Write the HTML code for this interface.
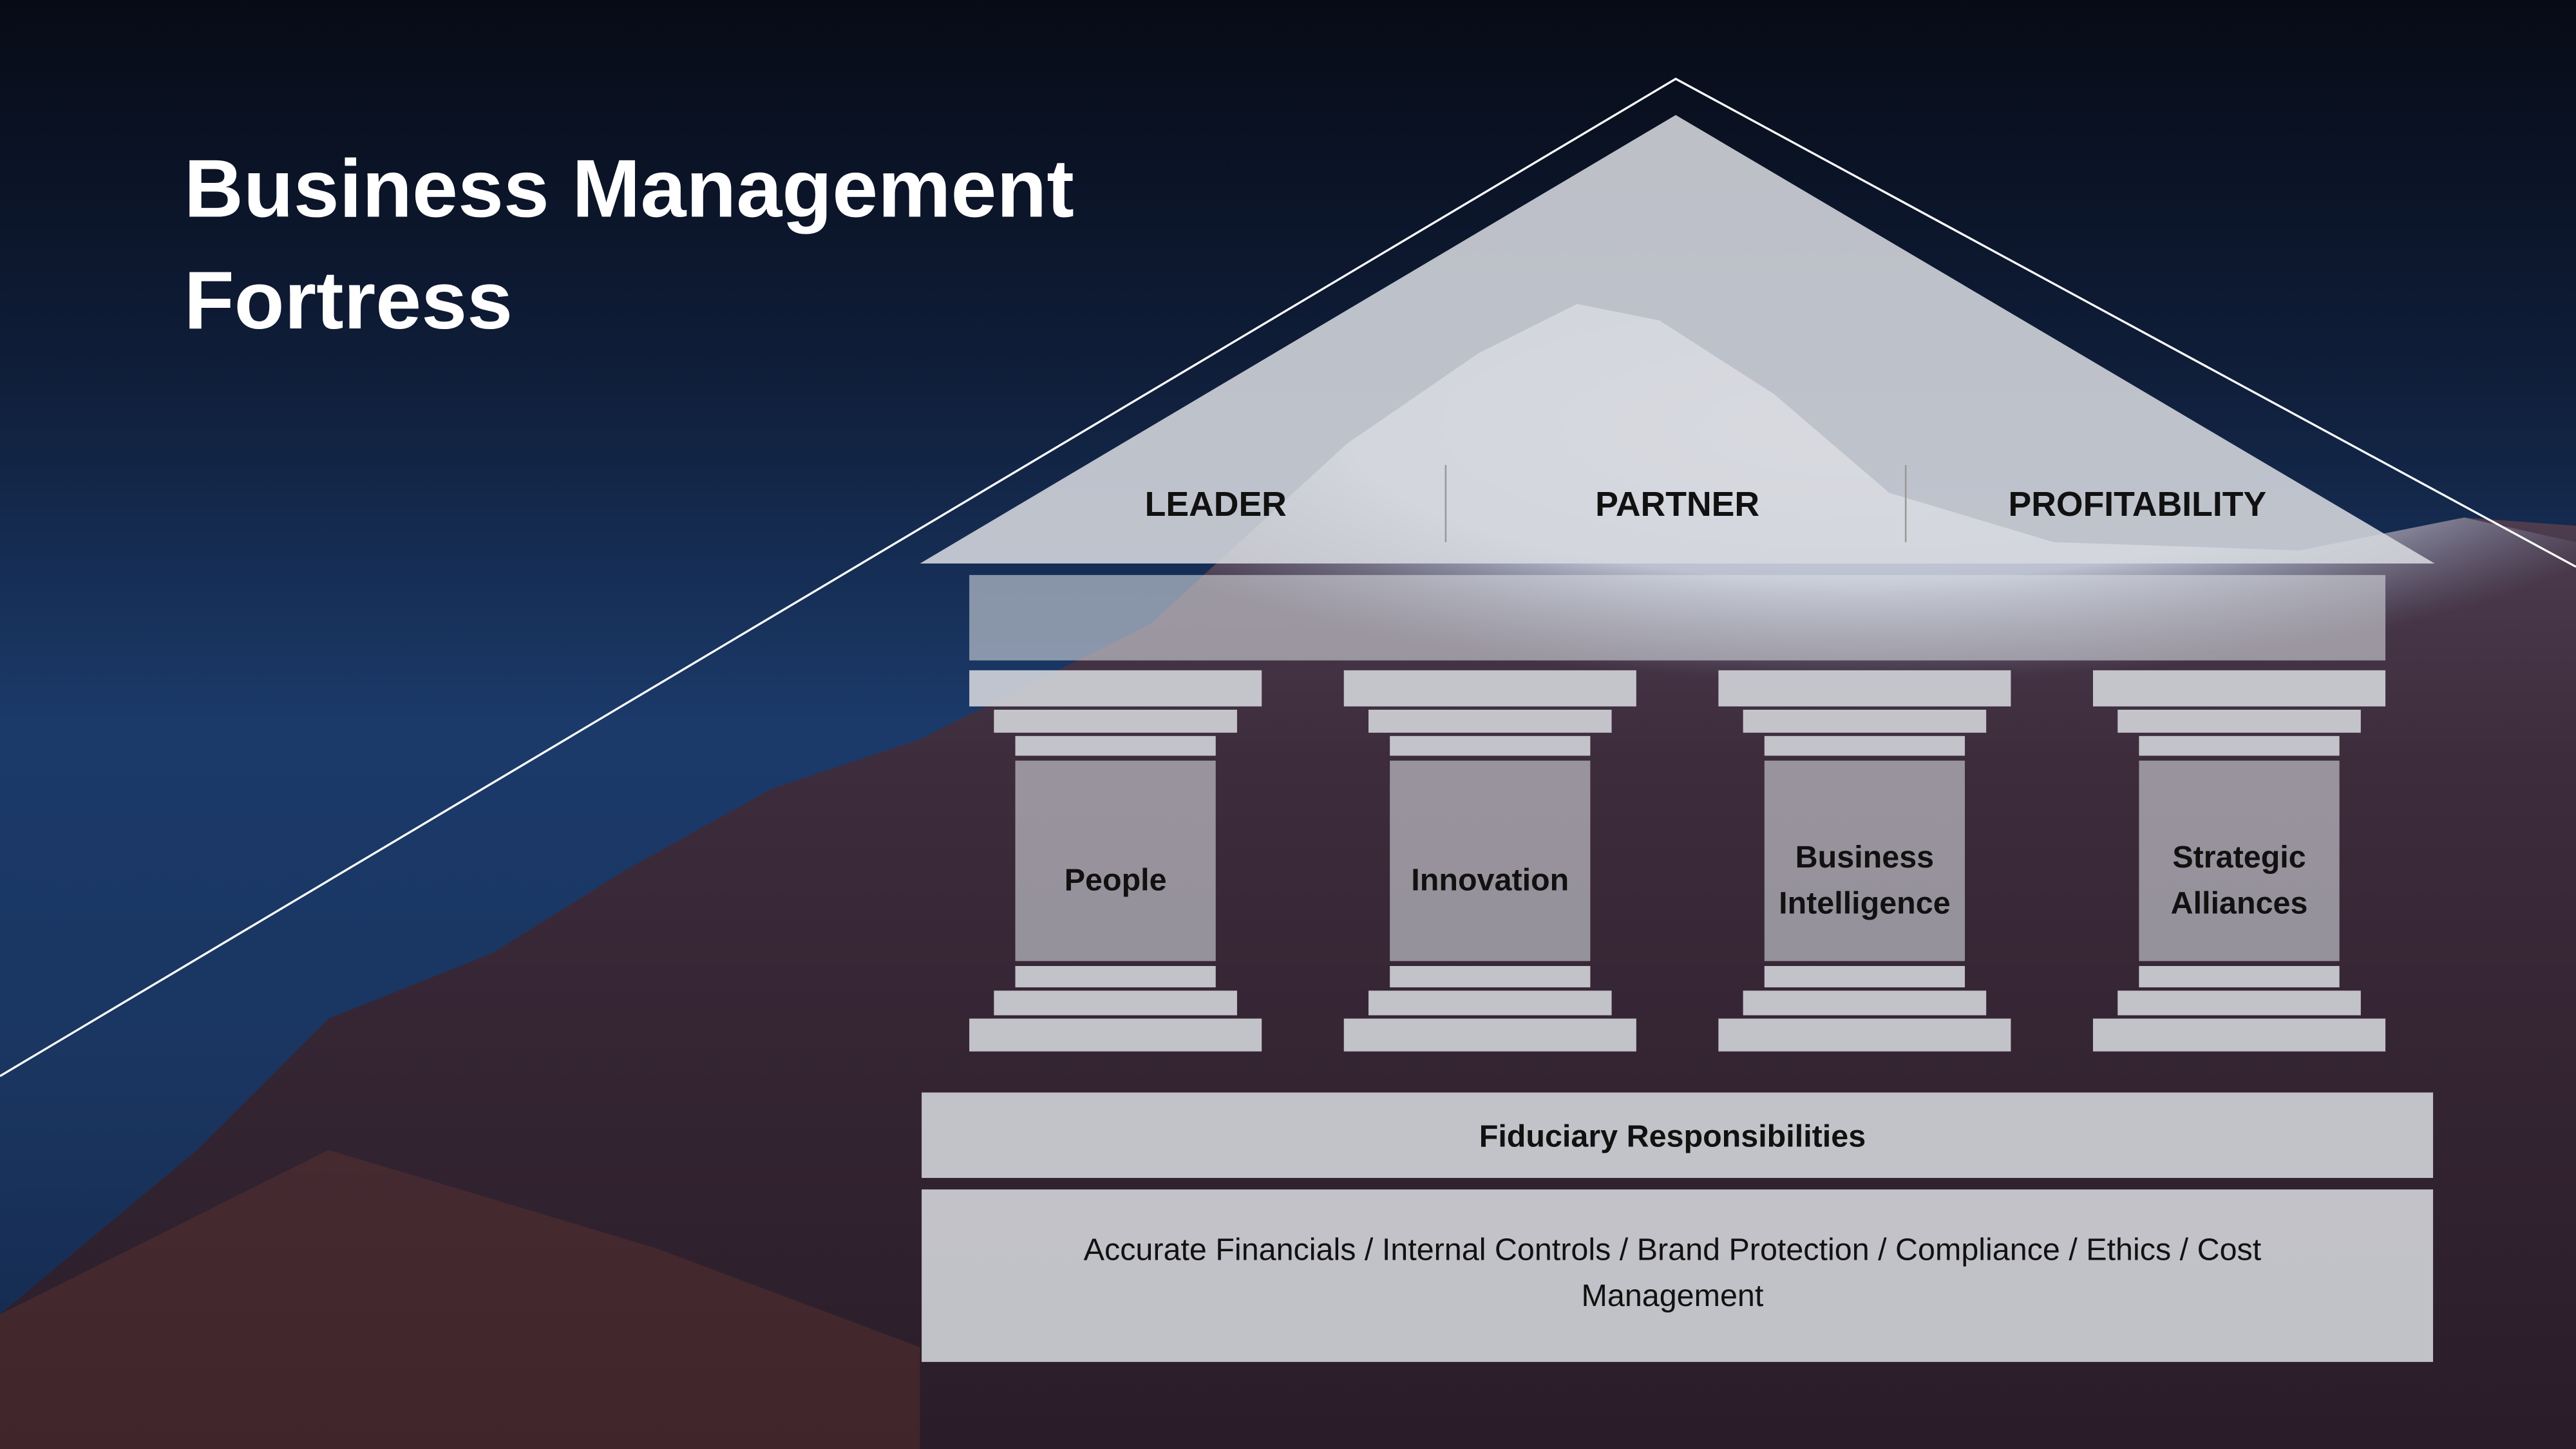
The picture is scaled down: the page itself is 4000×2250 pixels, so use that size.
<!DOCTYPE html>
<html><head><meta charset="utf-8"><style>
html,body{margin:0;padding:0;width:4000px;height:2250px;overflow:hidden;background:#0a1020}
svg{display:block}
text{font-family:"Liberation Sans",sans-serif}
</style></head><body>
<svg width="4000" height="2250" viewBox="0 0 1568 882" xmlns="http://www.w3.org/2000/svg">
<defs>
<linearGradient id="sky" x1="0" y1="0" x2="0" y2="1">
<stop offset="0" stop-color="#070b16"/>
<stop offset="0.25" stop-color="#0f1d38"/>
<stop offset="0.5" stop-color="#1b3a6a"/>
<stop offset="0.75" stop-color="#1a3560"/>
<stop offset="1" stop-color="#14284a"/>
</linearGradient>
<linearGradient id="mtn" x1="0" y1="0" x2="0" y2="1">
<stop offset="0" stop-color="#5a4a5e"/>
<stop offset="0.4" stop-color="#3d2c3c"/>
<stop offset="1" stop-color="#2a1c28"/>
</linearGradient>
<radialGradient id="snow" cx="0.5" cy="0.3" r="0.6">
<stop offset="0" stop-color="#f2f4f8"/>
<stop offset="0.6" stop-color="#c8d0e0"/>
<stop offset="1" stop-color="#8090b0" stop-opacity="0"/>
</radialGradient>
</defs>
<rect width="1568" height="882" fill="url(#sky)"/>
<path d="M0,800 L120,700 L200,620 L300,580 L380,530 L470,480 L560,450 L700,380 L820,270 L900,215 L960,185 L1010,195 L1080,240 L1150,300 L1250,330 L1400,335 L1500,315 L1568,320 L1568,882 L0,882 Z" fill="url(#mtn)"/>
<path d="M700,380 L820,270 L900,215 L960,185 L1010,195 L1080,240 L1150,300 L1250,330 L1400,335 L1500,315 L1568,330 L1568,420 L1400,420 L1200,430 L1000,440 L800,430 Z" fill="url(#snow)" opacity="0.9"/>
<path d="M0,882 L0,800 L200,700 L400,760 L560,820 L560,882 Z" fill="#6a3a30" opacity="0.35"/>
<polyline points="0,655 1020,48 1568,345" fill="none" stroke="#ffffff" stroke-width="1.3"/>
<g fill="#d6d8de" fill-opacity="0.88">
<polygon points="560,343 1020,70 1482,343"/>
<rect x="590" y="350" width="862" height="52" fill-opacity="0.6"/>
<g id="col">
<rect x="590" y="408" width="178" height="22"/>
<rect x="605" y="432" width="148" height="14"/>
<rect x="618" y="448" width="122" height="12"/>
<rect x="618" y="463" width="122" height="122" fill-opacity="0.6"/>
<rect x="618" y="588" width="122" height="13"/>
<rect x="605" y="603" width="148" height="15"/>
<rect x="590" y="620" width="178" height="20"/>
</g>
<use href="#col" x="228"/>
<use href="#col" x="456"/>
<use href="#col" x="684"/>
<rect x="561" y="665" width="920" height="52"/>
<rect x="561" y="724" width="920" height="105"/>
</g>
<line x1="880" y1="283" x2="880" y2="330" stroke="#999" stroke-width="1"/>
<line x1="1160" y1="283" x2="1160" y2="330" stroke="#999" stroke-width="1"/>
<g font-weight="bold" fill="#111" font-size="21" text-anchor="middle">
<text x="740" y="314">LEADER</text>
<text x="1021" y="314">PARTNER</text>
<text x="1301" y="314">PROFITABILITY</text>
</g>
<g font-weight="bold" fill="#111" font-size="19" text-anchor="middle">
<text x="679" y="542">People</text>
<text x="907" y="542">Innovation</text>
<text x="1135" y="528">Business</text>
<text x="1135" y="556">Intelligence</text>
<text x="1363" y="528">Strategic</text>
<text x="1363" y="556">Alliances</text>
<text x="1018" y="698">Fiduciary Responsibilities</text>
</g>
<g fill="#111" font-size="19" text-anchor="middle">
<text x="1018" y="767">Accurate Financials / Internal Controls / Brand Protection / Compliance / Ethics / Cost</text>
<text x="1018" y="795">Management</text>
</g>
<g font-weight="bold" fill="#fff" font-size="50">
<text x="112" y="132">Business Management</text>
<text x="112" y="200">Fortress</text>
</g>
</svg>
</body></html>
